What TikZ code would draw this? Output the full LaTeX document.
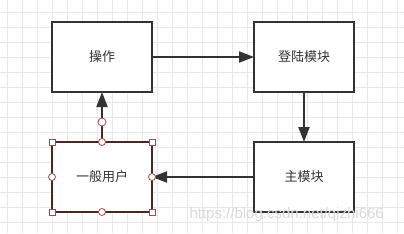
\documentclass[tikz,border=0pt]{standalone}
\usepackage{fontspec}
\setsansfont{Liberation Sans}
\newfontfamily\cjk{Noto Sans CJK SC}
\usetikzlibrary{arrows.meta}

\definecolor{inkgray}{HTML}{333333}
\definecolor{gridgray}{HTML}{E8E8E8}
\definecolor{selred}{HTML}{4A2626}
\definecolor{handlered}{HTML}{A04848}
\definecolor{markgray}{HTML}{DADADA}

\begin{document}
\begin{tikzpicture}[
						x=1pt, y=-1pt,
						line cap=butt,
						line join=miter,
						box/.style={draw=inkgray, line width=2pt, fill=white,
							minimum width=100pt, minimum height=70pt, outer sep=0pt,
							inner sep=0pt, font=\cjk\fontsize{13}{15}\selectfont, text=inkgray},
						link/.style={draw=inkgray, line width=2pt,
							-{Triangle[length=15pt, width=11pt]}},
						handlesq/.style={draw=handlered, fill=white, line width=0.8pt,
							minimum size=6pt, inner sep=0pt, outer sep=0pt, rectangle},
						handlecirc/.style={draw=handlered, fill=white, line width=0.8pt,
							minimum size=7pt, inner sep=0pt, outer sep=0pt, circle}
						]
						
						\useasboundingbox (0,0) rectangle (404,233);
						\fill[white] (0,0) rectangle (404,233);
						
						% background grid
						\foreach \gx in {7.5,22.5,...,404}
						\draw[gridgray, line width=1pt] (\gx,0) -- (\gx,233);
						\foreach \gy in {12.5,27.5,...,233}
						\draw[gridgray, line width=1pt] (0,\gy) -- (404,\gy);
						
						% boxes
						\node[box] (caozuo) at (102,57) {操作};
						\node[box] (denglu) at (304,57) {登陆模块};
						\node[box] (zhumokuai) at (304,177) {主模块};
						\node[box, draw=selred] (yonghu) at (102,177) {一般用户};
						
						% watermark
						\node[font=\sffamily\fontsize{15}{17}\selectfont, text=markgray, anchor=west]
						(mark) at (186,215) {https://blog.csdn.net/qizhi666};
						
						% connectors
						\draw[link] (caozuo.east) -- (denglu.west);
						\draw[link] (denglu.south) -- (zhumokuai.north);
						\draw[link] (zhumokuai.west) -- (yonghu.east);
						\draw[link] (yonghu.north) -- (caozuo.south);
						\draw[selred, line width=1pt] (yonghu.north) -- ++(0,-20) coordinate (turn);
						
						% selection handles
						\foreach \a in {north west, north east, south west, south east}
						\node[handlesq] at (yonghu.\a) {};
						\foreach \a in {north, south, east, west}
						\node[handlecirc] at (yonghu.\a) {};
						\node[handlecirc, minimum size=8pt] at (turn) {};
						
					\end{tikzpicture}
\end{document}
